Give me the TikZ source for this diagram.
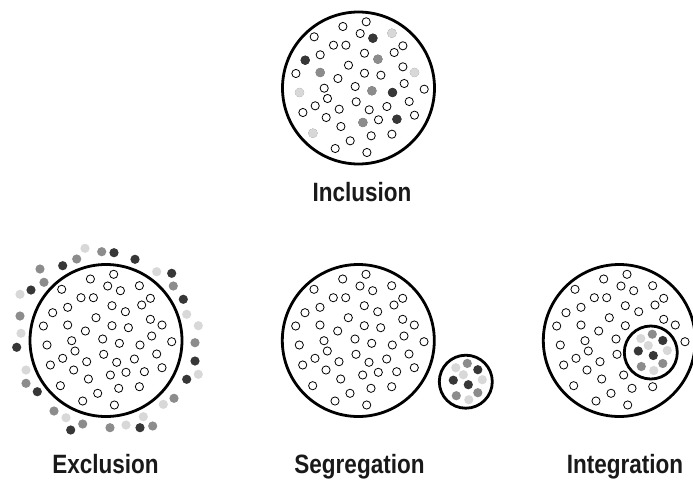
\documentclass[tikz,border=0pt]{standalone}
\usepackage{fontspec}
\newfontfamily\capfont[FakeStretch=0.85]{Liberation Sans}
\definecolor{dotdark}{RGB}{55,55,55}
\definecolor{dotmid}{RGB}{140,140,140}
\definecolor{dotpale}{RGB}{216,216,216}
% the crowd of open dots, offsets from a circle's centre
\newcommand\crowd{7.7/-66.2, -15.6/-61.5, 1.7/-54.5, 14.4/-49.8, 33.4/-54.8,
  -44.3/-51.2, -25/-42.8, -12.6/-42.8, 44.4/-42.2, 35.7/-35.5, 6/-34.8,
  -38.3/-33.2, 19.4/-28.8, -53.3/-27.8, -10/-22.8, 44.4/-21.2, 56/-15.5,
  -62.6/-14.5, -38.3/-15.5, 6/-14.8, 22.4/-12.8, -20.6/-9.5, 45.7/-4.5,
  -3.3/-1.5, 65.7/1.2, -34.3/0.2, 13.4/2.8, 34/4.5, -59/4.5, -31/10.5,
  -2.3/13.8, 50.7/13.5, 28.4/18.5, -43.3/17.8, -19.3/21.2, 10.7/21.8,
  -55.6/24.5, 56/27.2, -32.3/29.5, 20/31.8, 38.4/31.2, 4.4/34.5, -17.6/38.5,
  33.4/46.2, -45.6/45.2, 12.7/47.8, -8.3/52.8, -23.3/60.5, 8.4/64.5}
\begin{document}
\begin{tikzpicture}[x=1pt, y=-1pt,
            member/.style={draw=black, line width=0.8pt, fill=white},
            dark/.style={fill=dotdark},
            mid/.style={fill=dotmid},
            pale/.style={fill=dotpale},
            ring/.style={draw=black, line width=2.8pt},
            caption/.style={anchor=base, text=black!90,
                font=\capfont\bfseries\fontsize{26.5}{30}\selectfont}
        ]
            \useasboundingbox (0,0) rectangle (693,480);

            % inclusion
            \begin{scope}[shift={(358.5,88)}]
                \draw[ring] (0,0) circle (76pt);
                \foreach \x/\y in \crowd \draw[member] (\x,\y) circle (4.1pt);
                \foreach \x/\y in {14.4/-49.8, -53.3/-27.8, 34/4.5, 38.4/31.2}
                    \fill[dark] (\x,\y) circle (4.7pt);
                \foreach \x/\y in {19.4/-28.8, -38.3/-15.5, 13.4/2.8, 4.4/34.5}
                    \fill[mid] (\x,\y) circle (4.7pt);
                \foreach \x/\y in {33.4/-54.8, 56/-15.5, -59/4.5, -45.6/45.2}
                    \fill[pale] (\x,\y) circle (4.7pt);
            \end{scope}
            \node[caption] (inclusion) at (362,201) {Inclusion};

            % exclusion
            \begin{scope}[shift={(106,340.5)}]
                \draw[ring] (0,0) circle (76pt);
                \foreach \x/\y in \crowd \draw[member] (\x,\y) circle (4.1pt);
            \end{scope}
            \foreach \x/\y in {114/252.7, 135/259.3, 62.7/265.7, 171.7/273.3, 31/290,
                    183.3/299.3, 16.7/347.3, 195/361, 186.7/379.3, 37.3/391.7,
                    70.7/430, 140/427.7}
                \fill[dark] (\x,\y) circle (4.6pt);
            \foreach \x/\y in {101.7/251.7, 76.7/259, 40/269, 44/282.3, 173.3/286,
                    20/316, 195/342.7, 26/383.3, 174/398.3, 54/411, 82.7/424,
                    110/427.7, 152.7/426}
                \fill[mid] (\x,\y) circle (4.6pt);
            \foreach \x/\y in {85/248.3, 156.7/271.7, 20/294.3, 186.7/314.3,
                    198.3/325.7, 21/333.3, 26/370, 198.3/374.3, 163.3/404.3,
                    66/417.7, 143.3/416.7, 126/425}
                \fill[pale] (\x,\y) circle (4.6pt);
            \node[caption] (exclusion) at (105.5,473.5) {Exclusion};

            % segregation
            \begin{scope}[shift={(358.3,340.5)}]
                \draw[ring] (0,0) circle (76pt);
                \foreach \x/\y in \crowd \draw[member] (\x,\y) circle (4.1pt);
            \end{scope}
            \node[caption] (segregation) at (359.5,473.5) {Segregation};

            % integration - skip the dots under the small group
            \begin{scope}[shift={(619.3,340.5)}]
                \draw[ring] (0,0) circle (76pt);
                \foreach \x/\y in \crowd {
                    \pgfmathparse{veclen(\x-31.5,\y-12)}
                    \ifdim\pgfmathresult pt>31pt \draw[member] (\x,\y) circle (4.1pt); \fi
                }
            \end{scope}
            \node[caption] (integration) at (625,473.5) {Integration};

            % the small group, alone and inside
            \foreach \cx/\cy in {465.8/381.7, 650.8/352.5} {
                \begin{scope}[shift={(\cx,\cy)}]
                    \draw[ring, fill=white] (0,0) circle (26.5pt);
                    \foreach \x/\y in {12/-12, -12.5/-1.5, 2.5/3}
                        \fill[dark] (\x,\y) circle (4.6pt);
                    \foreach \x/\y in {1.5/-18.3, -9.5/14, 12/11}
                        \fill[mid] (\x,\y) circle (4.6pt);
                    \foreach \x/\y in {-10/-14, -2.5/-7, 16.5/-2, 3/18}
                        \fill[pale] (\x,\y) circle (4.6pt);
                \end{scope}
            }
        \end{tikzpicture}
\end{document}
